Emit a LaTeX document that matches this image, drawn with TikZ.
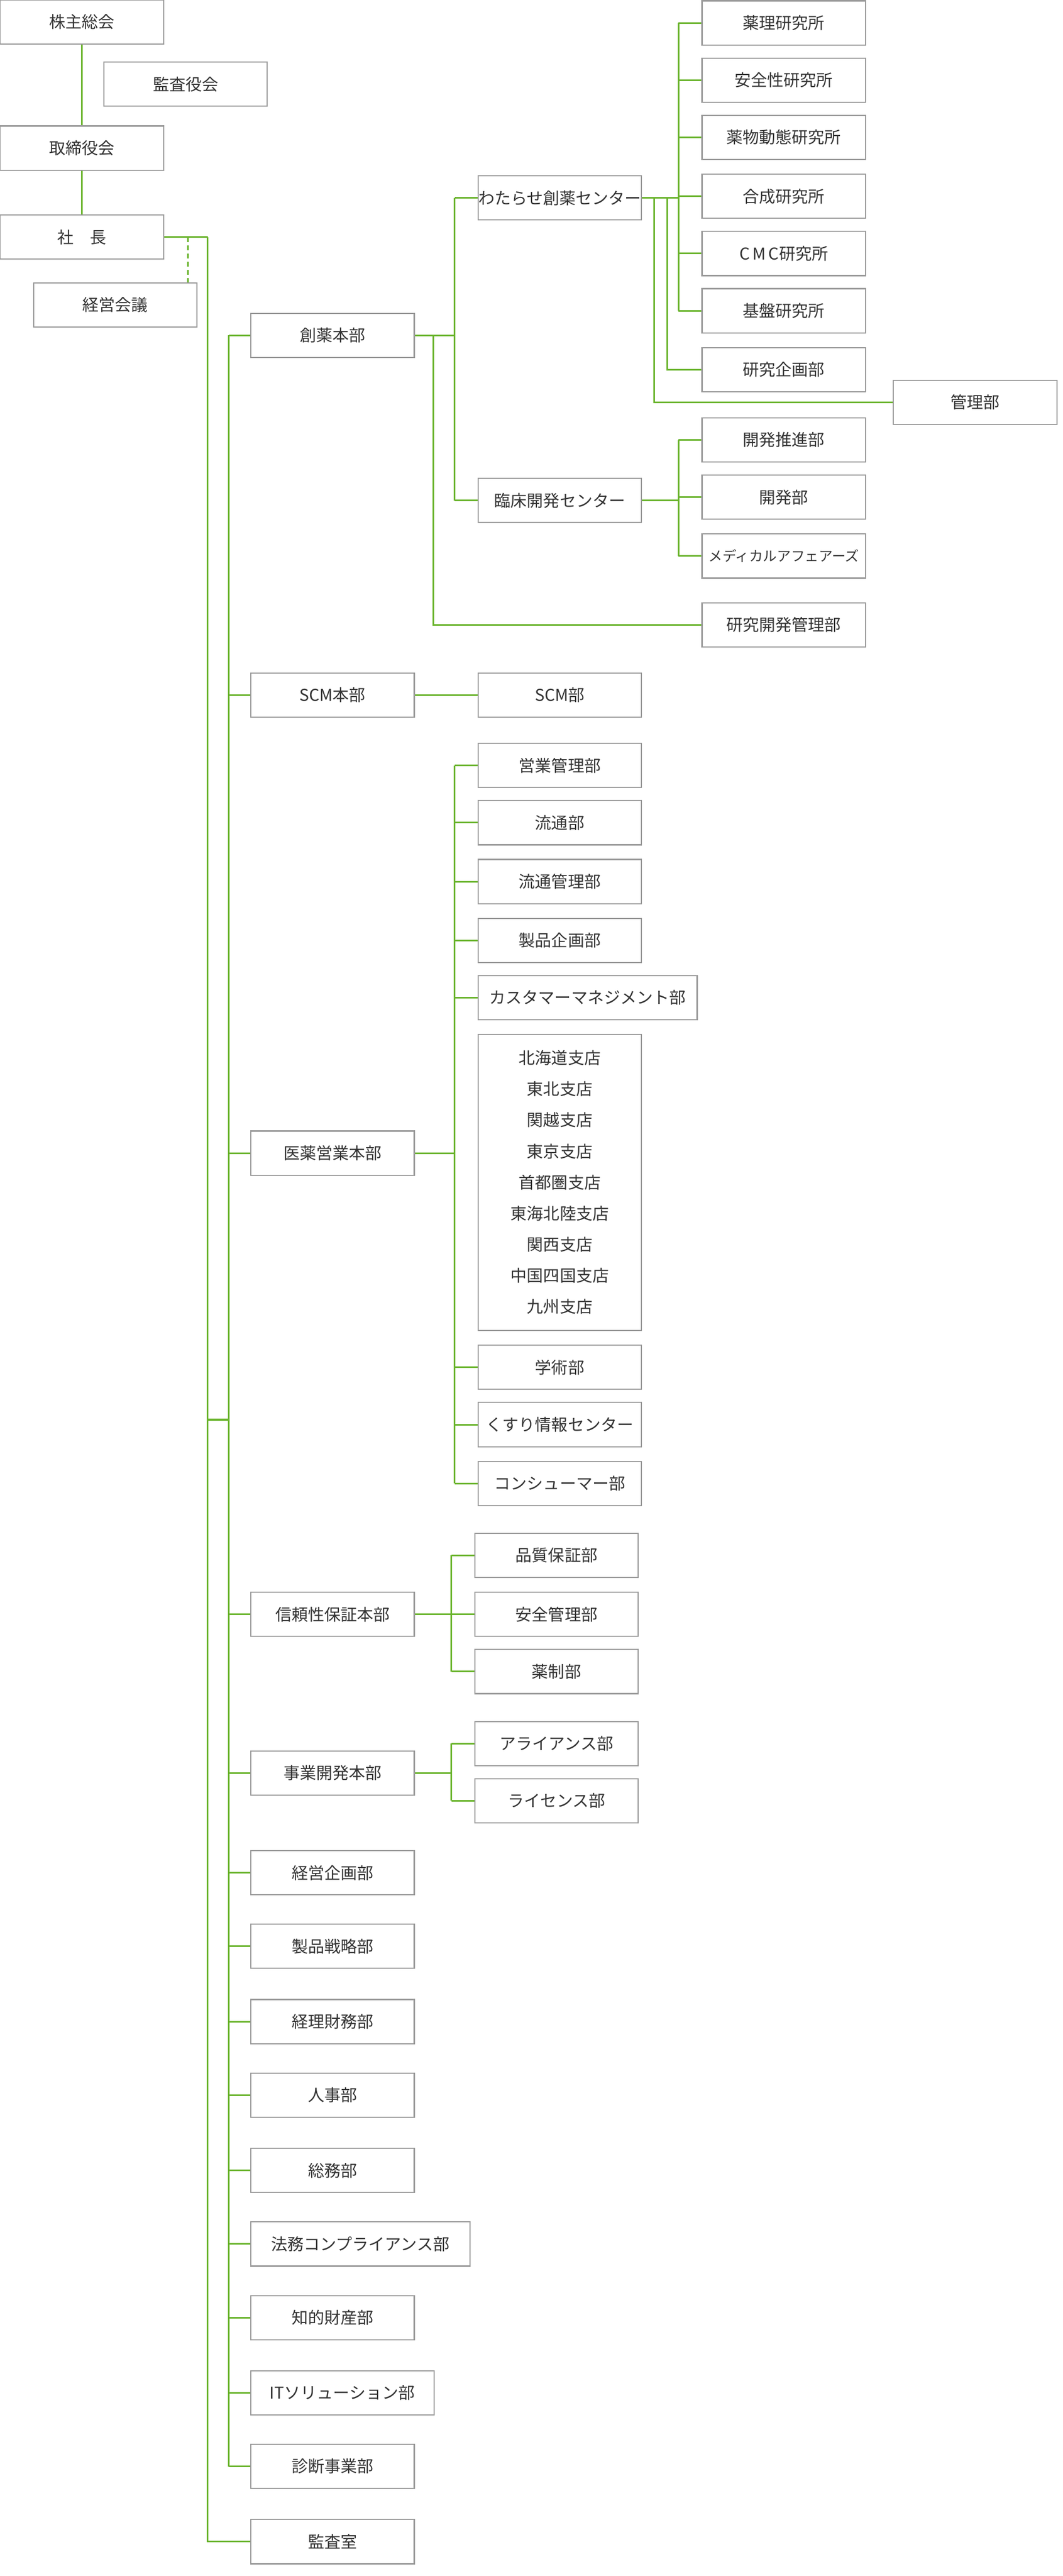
\documentclass[tikz,border=0pt]{standalone}
\usepackage{fontspec}
\newfontfamily\jp{Noto Sans CJK JP}
\begin{document}
\begin{tikzpicture}[x=1pt,y=-1pt,
  bx/.style={draw=black!40,line width=0.7pt,fill=white,minimum width=100pt,minimum height=27pt,inner sep=0pt,font=\jp\fontsize{10}{12}\selectfont,text=black!80},
  ln/.style={draw=green!55!black!70!lime,line width=1pt},
  dl/.style={ln,dashed}]
\useasboundingbox (0,0) rectangle (650,1575);
\definecolor{gl}{HTML}{6AB42D}
\tikzset{ln/.style={draw=gl,line width=1pt},dl/.style={draw=gl,line width=1pt,dash pattern=on 3pt off 2pt}}
% top
\node[bx] (kabu) at (50,13.5) {株主総会};
\node[bx] (kansayaku) at (113.5,51.5) {監査役会};
\node[bx] (tori) at (50,90.5) {取締役会};
\node[bx] (sha) at (50,145) {社\quad 長};
\node[bx] (keiei) at (70.5,186.5) {経営会議};
\draw[ln] (kabu) -- (tori);
\draw[ln] (tori) -- (sha);
\coordinate (t0) at (127,145);
\draw[ln] (sha.east) -- (t0);
\draw[dl] (115,145) -- (keiei.north -| 115,0);
% departments
\foreach \n/\t/\y/\w in {d1/創薬本部/205/100, d2/SCM本部/425/100, d3/医薬営業本部/705/100, d4/信頼性保証本部/987/100, d5/事業開発本部/1084/100, d6/経営企画部/1145/100, d7/製品戦略部/1190/100, d8/経理財務部/1236/100, d9/人事部/1281/100, d10/総務部/1327/100, d11/法務コンプライアンス部/1372/134, d12/知的財産部/1417/100, d13/ITソリューション部/1463/112, d14/診断事業部/1508/100}
  {\node[bx,minimum width=\w pt,anchor=west] (\n) at (153,\y) {\t};
   \draw[ln] (140,\y) -- (\n.west);}
\node[bx,anchor=west] (kansa) at (153,1554) {監査室};
\coordinate (tb) at (127,1554);
\draw[ln] (t0) -- (tb) -- (kansa.west);
\draw[ln] (140,205) -- (140,1508);
\draw[ln] (127,868) -- (140,868);
% 創薬本部
\foreach \n/\t/\y in {wat/わたらせ創薬センター/121, rin/臨床開発センター/306}
  {\node[bx,anchor=west] (\n) at (292,\y) {\t}; \draw[ln] (278,\y) -- (\n.west);}
\node[bx,anchor=west] (kenkan) at (429,382) {研究開発管理部};
\draw[ln] (d1.east) -- (278,205);
\draw[ln] (278,121) -- (278,306);
\draw[ln] (265,205) -- (265,382) -- (kenkan.west);
\foreach \n/\t/\y in {a1/薬理研究所/14, a2/安全性研究所/49, a3/薬物動態研究所/84, a4/合成研究所/120, a5/C\,M\,C研究所/155, a6/基盤研究所/190}
  {\node[bx,anchor=west] (\n) at (429,\y) {\t}; \draw[ln] (415,\y) -- (\n.west);}
\node[bx,anchor=west] (kikaku) at (429,226) {研究企画部};
\node[bx,anchor=west] (kanri) at (546,246) {管理部};
\draw[ln] (wat.east) -- (415,121);
\draw[ln] (415,14) -- (415,190);
\draw[ln] (408,121) -- (408,226) -- (kikaku.west);
\draw[ln] (400,121) -- (400,246) -- (kanri.west);
\foreach \n/\t/\y in {b1/開発推進部/269, b2/開発部/304, b3/{\fontsize{8.5}{10}\selectfont メディカルアフェアーズ}/340}
  {\node[bx,anchor=west] (\n) at (429,\y) {\t}; \draw[ln] (415,\y) -- (\n.west);}
\draw[ln] (rin.east) -- (415,306);
\draw[ln] (415,269) -- (415,340);
% SCM
\node[bx,anchor=west] (scm) at (292,425) {SCM部};
\draw[ln] (d2.east) -- (scm.west);
% 医薬営業本部
\foreach \n/\t/\y/\w in {c1/営業管理部/468/100, c2/流通部/503/100, c3/流通管理部/539/100, c4/製品企画部/575/100, c5/カスタマーマネジメント部/610/134, c7/学術部/836/100, c8/くすり情報センター/871/100, c9/コンシューマー部/907/100}
  {\node[bx,minimum width=\w pt,anchor=west] (\n) at (292,\y) {\t}; \draw[ln] (278,\y) -- (\n.west);}
\node[bx,anchor=north west,minimum height=181pt,align=center,font=\jp\fontsize{10}{19}\selectfont] (c6) at (292,632) {北海道支店\\東北支店\\関越支店\\東京支店\\首都圏支店\\東海北陸支店\\関西支店\\中国四国支店\\九州支店};
\draw[ln] (d3.east) -- (278,705);
\draw[ln] (278,468) -- (278,907);
% 信頼性保証
\foreach \n/\t/\y in {e1/品質保証部/951, e2/安全管理部/987, e3/薬制部/1022}
  {\node[bx,anchor=west] (\n) at (290,\y) {\t}; \draw[ln] (276,\y) -- (\n.west);}
\draw[ln] (d4.east) -- (276,987);
\draw[ln] (276,951) -- (276,1022);
% 事業開発
\foreach \n/\t/\y in {f1/アライアンス部/1066, f2/ライセンス部/1101}
  {\node[bx,anchor=west] (\n) at (290,\y) {\t}; \draw[ln] (276,\y) -- (\n.west);}
\draw[ln] (d5.east) -- (276,1084);
\draw[ln] (276,1066) -- (276,1101);
\end{tikzpicture}
\end{document}
